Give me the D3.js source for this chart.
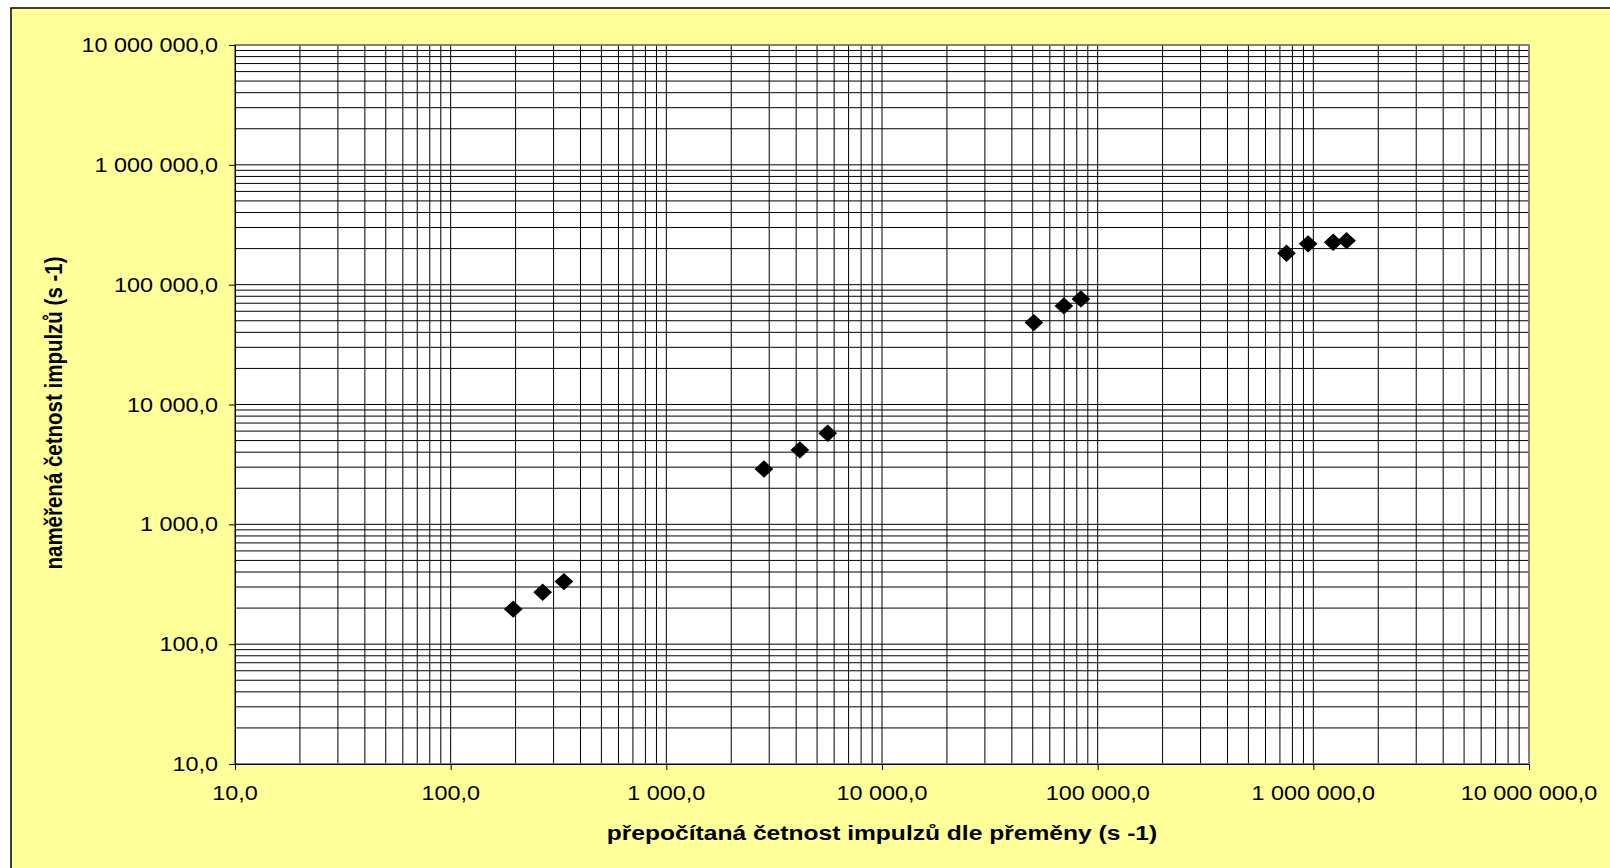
<!DOCTYPE html>
<html>
<head>
<meta charset="utf-8">
<script src="https://cdn.jsdelivr.net/npm/d3@7"></script>
<style>
  body { margin: 0; background: #fff; }
  svg { display: block; }
  text { font-family: "Liberation Sans", Arial, sans-serif; fill: #000; }
</style>
</head>
<body>
<div id="chart"></div>
<script>
// measured points (x = recalculated rate, y = measured rate)
const xValues = [195, 267, 335, 2835, 4160, 5600, 50600, 69700, 83600, 751000, 946000, 1236000, 1426000];
const yValues = [196, 271, 333, 2897, 4180, 5755, 48300, 66500, 76000, 183000, 219000, 226000, 233000];
const tickValues = [10, 100, 1000, 10000, 100000, 1000000, 10000000];
const xTitle = 'přepočítaná četnost impulzů dle přeměny (s -1)';
const yTitle = 'naměřená četnost impulzů (s -1)';

const width = 1610, height = 868;
const margin = {top: 45, right: 81, bottom: 104, left: 235};
const stretch = 1.2; // text in the original is widened horizontally

const svg = d3.select('#chart').append('svg')
  .attr('width', width)
  .attr('height', height);

// outer chart area
svg.append('rect')
  .attr('x', 11).attr('y', 8)
  .attr('width', width).attr('height', height)
  .attr('fill', '#ffff99')
  .attr('stroke', '#000')
  .attr('stroke-width', 1.5);

const x = d3.scaleLog()
  .domain([10, 10000000])
  .range([margin.left, width - margin.right]);

const y = d3.scaleLog()
  .domain([10, 10000000])
  .range([height - margin.bottom, margin.top]);

const fmt = d3.formatLocale({decimal: ',', thousands: '\u00a0', grouping: [3], currency: ['', '']}).format(',.1f');

// plot area
svg.append('rect')
  .attr('x', x.range()[0]).attr('y', y.range()[1])
  .attr('width', x.range()[1] - x.range()[0])
  .attr('height', y.range()[0] - y.range()[1])
  .attr('fill', '#fff');

// gridlines, every 1..9 multiple of each decade
const grid = svg.append('g').attr('stroke', '#000').attr('stroke-width', 1);
grid.selectAll('.vgrid').data(x.ticks())
  .enter().append('line')
  .attr('class', 'vgrid')
  .attr('x1', d => x(d)).attr('x2', d => x(d))
  .attr('y1', y.range()[0]).attr('y2', y.range()[1]);
grid.selectAll('.hgrid').data(y.ticks())
  .enter().append('line')
  .attr('class', 'hgrid')
  .attr('y1', d => y(d)).attr('y2', d => y(d))
  .attr('x1', x.range()[0]).attr('x2', x.range()[1]);

// plot border
svg.append('rect')
  .attr('x', x.range()[0]).attr('y', y.range()[1])
  .attr('width', x.range()[1] - x.range()[0])
  .attr('height', y.range()[0] - y.range()[1])
  .attr('fill', 'none')
  .attr('stroke', '#808080')
  .attr('stroke-width', 1.5);

// axes
const xAxis = svg.append('g')
  .attr('transform', 'translate(0,' + y.range()[0] + ')')
  .call(d3.axisBottom(x).tickValues(tickValues).tickSize(6).tickFormat(''));
const yAxis = svg.append('g')
  .attr('transform', 'translate(' + x.range()[0] + ',0)')
  .call(d3.axisLeft(y).tickValues(tickValues).tickSize(6).tickFormat(''));
[xAxis, yAxis].forEach(a => {
  a.select('.domain').attr('stroke', '#000');
  a.selectAll('.tick line').attr('stroke', '#000');
});

// tick labels (drawn separately so they can be widened like the original)
svg.append('g').selectAll('text').data(tickValues)
  .enter().append('text')
  .attr('transform', d => 'translate(' + x(d) + ',' + (y.range()[0] + 36) + ') scale(' + stretch + ',1)')
  .attr('text-anchor', 'middle')
  .style('font-size', '19.5px')
  .text(d => fmt(d));

svg.append('g').selectAll('text').data(tickValues)
  .enter().append('text')
  .attr('transform', d => 'translate(' + (x.range()[0] - 17) + ',' + (y(d) + 7) + ') scale(' + stretch + ',1)')
  .attr('text-anchor', 'end')
  .style('font-size', '19.5px')
  .text(d => fmt(d));

// axis titles
svg.append('text')
  .attr('transform', 'translate(' + ((x.range()[0] + x.range()[1]) / 2) + ',840) scale(' + stretch + ',1)')
  .attr('text-anchor', 'middle')
  .style('font-size', '20.5px')
  .style('font-weight', 'bold')
  .text(xTitle);

svg.append('text')
  .attr('transform', 'translate(62,413) scale(' + stretch + ',1) rotate(-90)')
  .attr('text-anchor', 'middle')
  .style('font-size', '20.5px')
  .style('font-weight', 'bold')
  .text(yTitle);

// data markers
const points = xValues.map((v, i) => ({x: v, y: yValues[i]}));
svg.append('g').selectAll('path').data(points)
  .enter().append('path')
  .attr('transform', d => 'translate(' + x(d.x) + ',' + y(d.y) + ') scale(1.08,1) rotate(45)')
  .attr('d', d3.symbol(d3.symbolSquare, 150))
  .attr('fill', '#000');
</script>
</body>
</html>
